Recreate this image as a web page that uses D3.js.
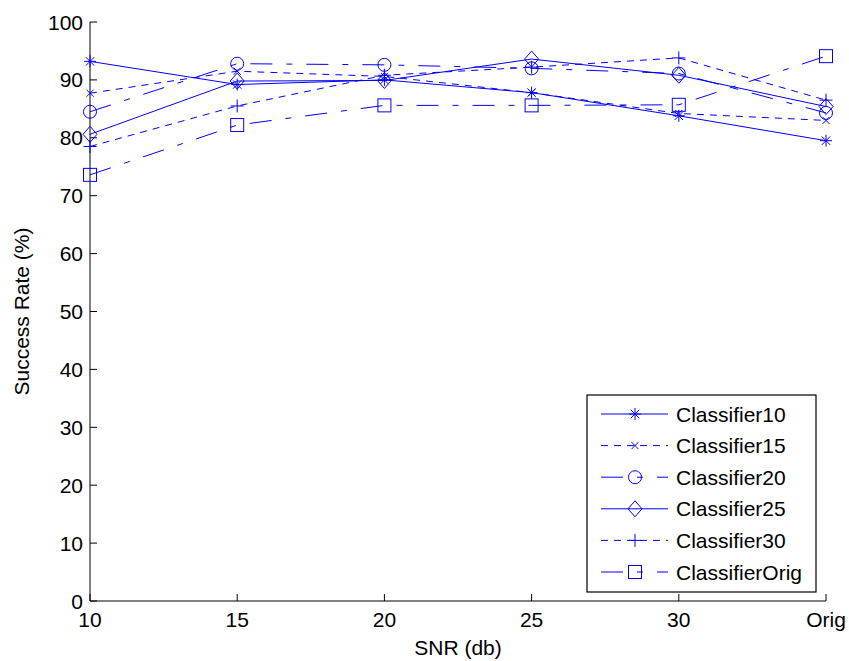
<!DOCTYPE html>
<html>
<head>
<meta charset="utf-8">
<title>Success rate vs SNR</title>
<script src="https://d3js.org/d3.v7.min.js"></script>
<style>
body { margin: 0; background: #fff; }
svg text { font-family: "Liberation Sans", Arial, Helvetica, sans-serif; fill: #000; }
</style>
</head>
<body>
<svg id="chart"></svg>
<script>

// Data
var snrLabels = ["10", "15", "20", "25", "30", "Orig"];
var classifierNames = ["Classifier10", "Classifier15", "Classifier20", "Classifier25", "Classifier30", "ClassifierOrig"];
var classifier10   = [93.2, 89.2, 90.0, 87.8, 83.8, 79.5];
var classifier15   = [87.7, 91.5, 90.6, 87.8, 84.2, 83.0];
var classifier20   = [84.5, 92.8, 92.6, 92.0, 91.1, 84.3];
var classifier25   = [80.6, 89.8, 89.9, 93.6, 90.8, 85.4];
var classifier30   = [78.5, 85.5, 90.8, 92.2, 93.8, 86.5];
var classifierOrig = [73.6, 82.2, 85.6, 85.6, 85.7, 94.1];
var yTicks = [0, 10, 20, 30, 40, 50, 60, 70, 80, 90, 100];

var width = 849, height = 661;
var margin = { left: 90, right: 23, top: 22, bottom: 60 };
var blue = "#0000ff";

var svg = d3.select("#chart").attr("width", width).attr("height", height);

var x = d3.scalePoint().domain(snrLabels).range([margin.left, width - margin.right]);
var y = d3.scaleLinear().domain([0, 100]).range([height - margin.bottom, margin.top]);

// series: line style + marker per classifier (matlab-ish)
var series = [
  { name: classifierNames[0], values: classifier10,   dash: null,             marker: "asterisk" },
  { name: classifierNames[1], values: classifier15,   dash: "7,6",            marker: "cross" },
  { name: classifierNames[2], values: classifier20,   dash: "22,14,6,14",     marker: "circle" },
  { name: classifierNames[3], values: classifier25,   dash: null,             marker: "diamond" },
  { name: classifierNames[4], values: classifier30,   dash: "7,6",            marker: "plus" },
  { name: classifierNames[5], values: classifierOrig, dash: "22,14,6,14",     marker: "square" }
];

function drawMarker(g, type, cx, cy) {
  var m = g.append("g").attr("transform", "translate(" + cx + "," + cy + ")")
    .attr("fill", "none").attr("stroke", blue).attr("stroke-width", 1);
  if (type === "circle") {
    m.append("circle").attr("r", 6.5);
  } else if (type === "square") {
    m.append("rect").attr("x", -6.5).attr("y", -6.5).attr("width", 13).attr("height", 13);
  } else if (type === "diamond") {
    m.append("path").attr("d", "M0,-8L7,0L0,8L-7,0Z");
  } else if (type === "plus") {
    m.append("path").attr("d", "M-6.5,0H6.5M0,-6.5V6.5");
  } else if (type === "cross") {
    m.append("path").attr("d", "M-3.5,-3.5L3.5,3.5M-3.5,3.5L3.5,-3.5");
  } else if (type === "asterisk") {
    m.append("path").attr("d", "M-6,0H6M0,-6V6M-4.2,-4.2L4.2,4.2M-4.2,4.2L4.2,-4.2");
  }
}

// axes (box off, ticks inward)
var axisG = svg.append("g");
axisG.append("line")
  .attr("x1", x.range()[0]).attr("x2", x.range()[1])
  .attr("y1", y(0)).attr("y2", y(0))
  .attr("stroke", "#000").attr("stroke-width", 1);
axisG.append("line")
  .attr("x1", x.range()[0]).attr("x2", x.range()[0])
  .attr("y1", y(0)).attr("y2", y(100))
  .attr("stroke", "#000").attr("stroke-width", 1);

axisG.selectAll(".ytick").data(yTicks).enter().append("line")
  .attr("x1", margin.left).attr("x2", margin.left + 7)
  .attr("y1", function (d) { return y(d); }).attr("y2", function (d) { return y(d); })
  .attr("stroke", "#000");
axisG.selectAll(".ylab").data(yTicks).enter().append("text")
  .attr("x", margin.left - 7).attr("y", function (d) { return y(d); })
  .attr("dy", "0.36em").attr("text-anchor", "end").attr("font-size", 21)
  .text(function (d) { return d; });

axisG.selectAll(".xtick").data(snrLabels).enter().append("line")
  .attr("x1", function (d) { return x(d); }).attr("x2", function (d) { return x(d); })
  .attr("y1", y(0)).attr("y2", y(0) - 7)
  .attr("stroke", "#000");
axisG.selectAll(".xlab").data(snrLabels).enter().append("text")
  .attr("x", function (d) { return x(d); }).attr("y", y(0) + 26)
  .attr("text-anchor", "middle").attr("font-size", 21)
  .text(function (d) { return d; });

svg.append("text")
  .attr("x", (x.range()[0] + x.range()[1]) / 2).attr("y", 655)
  .attr("text-anchor", "middle").attr("font-size", 21)
  .text("SNR (db)");
svg.append("text")
  .attr("transform", "translate(29," + y(50) + ")rotate(-90)")
  .attr("text-anchor", "middle").attr("font-size", 21)
  .text("Success Rate (%)");

// lines + markers
var line = d3.line()
  .x(function (d, i) { return x(snrLabels[i]); })
  .y(function (d) { return y(d); });

var plot = svg.append("g");
series.forEach(function (s) {
  var g = plot.append("g");
  g.append("path").attr("d", line(s.values))
    .attr("fill", "none").attr("stroke", blue).attr("stroke-width", 1)
    .attr("stroke-dasharray", s.dash);
  s.values.forEach(function (v, i) { drawMarker(g, s.marker, x(snrLabels[i]), y(v)); });
});

// legend
var lg = svg.append("g").attr("transform", "translate(587,395)");
lg.append("rect").attr("width", 229).attr("height", 197)
  .attr("fill", "#fff").attr("stroke", "#000").attr("stroke-width", 1.2);
series.forEach(function (s, i) {
  var cy = 19 + i * 31.6;
  lg.append("line").attr("x1", 14).attr("x2", 81).attr("y1", cy).attr("y2", cy)
    .attr("stroke", blue).attr("stroke-width", 1).attr("stroke-dasharray", s.dash);
  drawMarker(lg, s.marker, 48, cy);
  lg.append("text").attr("x", 89).attr("y", cy).attr("dy", "0.36em")
    .attr("font-size", 21).text(s.name);
});
</script>
</body>
</html>
